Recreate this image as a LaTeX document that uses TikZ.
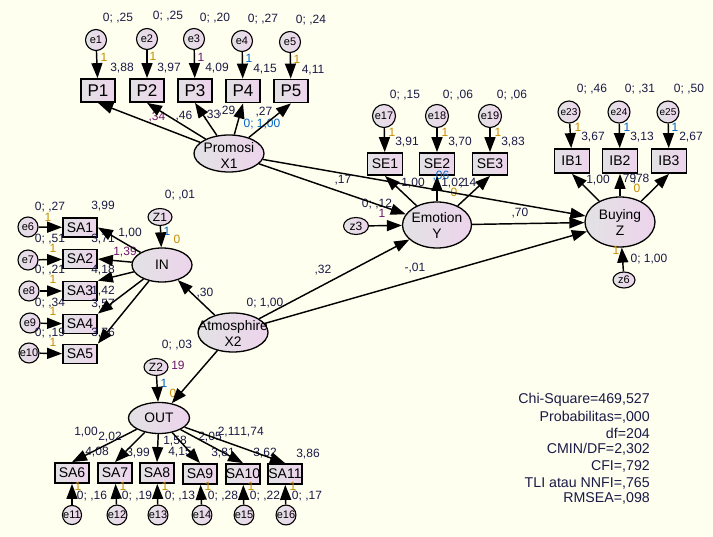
\documentclass[tikz,border=0pt]{standalone}
\usepackage{fontspec}
\setmainfont{Liberation Sans}
\usetikzlibrary{shapes.geometric,arrows.meta}
\definecolor{bgc}{RGB}{255,255,240}
\definecolor{gl}{RGB}{226,226,228}
\definecolor{gr}{RGB}{237,212,236}
\definecolor{gold}{RGB}{200,140,0}
\definecolor{navy}{RGB}{25,25,70}
\definecolor{purp}{RGB}{110,20,110}
\definecolor{blu}{RGB}{0,100,200}
\begin{document}
\begin{tikzpicture}[x=1pt,y=-1pt,
 lat/.style={ellipse,draw,line width=1.3pt,left color=gl,right color=gr,inner sep=0pt},
 obs/.style={rectangle,draw,line width=1.8pt,left color=gl,right color=gr,inner sep=0pt,minimum width=34pt,minimum height=20pt,font=\fontsize{14}{14}\selectfont},
 err/.style={circle,draw,line width=1.1pt,left color=gl,right color=gr,inner sep=0pt,minimum size=21pt,font=\fontsize{11}{11}\selectfont},
 dist/.style={ellipse,draw,line width=1.1pt,left color=gl,right color=gr,inner sep=0pt,minimum width=24pt,minimum height=17pt,font=\fontsize{12}{12}\selectfont},
 arr/.style={-{Triangle[length=15pt,width=11pt]},line width=1.45pt},
 lb/.style={inner sep=0pt,font=\fontsize{12}{12}\selectfont,text=navy},
 one/.style={lb,text=gold},
 ttl/.style={inner sep=0pt,align=center,font=\fontsize{13.8}{16}\selectfont},
 stat/.style={anchor=east,inner sep=0pt,font=\fontsize{14.2}{15}\selectfont,text=navy},
]
\fill[bgc] (0,0) rectangle (713,537);
\useasboundingbox (0,0) rectangle (713,537);

% ---------- Promosi block ----------
\node[err] (e1) at (96,40) {e1};
\node[err] (e2) at (147,39) {e2};
\node[err] (e3) at (194,39) {e3};
\node[err] (e4) at (242,41) {e4};
\node[err] (e5) at (290,42) {e5};
\node[obs,minimum height=23pt,font=\fontsize{17}{17}\selectfont] (P1) at (98,90.5) {P1};
\node[obs,minimum height=23pt,font=\fontsize{17}{17}\selectfont] (P2) at (147,90.5) {P2};
\node[obs,minimum height=23pt,font=\fontsize{17}{17}\selectfont] (P3) at (195,90.5) {P3};
\node[obs,minimum height=23pt,font=\fontsize{17}{17}\selectfont] (P4) at (243,91) {P4};
\node[obs,minimum height=23pt,font=\fontsize{17}{17}\selectfont] (P5) at (291,91) {P5};
\node[lat,minimum width=70pt,minimum height=37pt] (X1) at (229,153.5) {};
\node[ttl] (X1t) at (229,156) {Promosi\\X1};

% ---------- Emotion block ----------
\node[err,minimum size=23pt] (e17) at (384,116) {e17};
\node[err,minimum size=23pt] (e18) at (437,116) {e18};
\node[err,minimum size=23pt] (e19) at (490,116) {e19};
\node[obs,minimum width=35pt,minimum height=22pt] (SE1) at (385,164) {SE1};
\node[obs,minimum width=35pt,minimum height=22pt] (SE2) at (437,164) {SE2};
\node[obs,minimum width=35pt,minimum height=22pt] (SE3) at (490,164) {SE3};
\node[lat,minimum width=69pt,minimum height=46pt] (Y) at (437,225) {};
\node[ttl] (Yt) at (437,225.5) {Emotion\\Y};
\node[dist,minimum width=25pt] (z3) at (356,226) {z3};

% ---------- Buying block ----------
\node[err,minimum size=22pt,font=\fontsize{10}{10}\selectfont] (e23) at (569,112) {e23};
\node[err,minimum size=22pt,font=\fontsize{10}{10}\selectfont] (e24) at (619,112) {e24};
\node[err,minimum size=22pt,font=\fontsize{10}{10}\selectfont] (e25) at (668,112) {e25};
\node[obs,minimum width=35pt,minimum height=24pt] (IB1) at (572,161) {IB1};
\node[obs,minimum width=35pt,minimum height=24pt] (IB2) at (620,161) {IB2};
\node[obs,minimum width=35pt,minimum height=24pt] (IB3) at (669,161) {IB3};
\node[lat,minimum width=70pt,minimum height=50pt] (Z) at (620,222) {};
\node[ttl] (Zt) at (620,222.5) {Buying\\Z};
\node[dist,minimum width=22pt,minimum height=16pt,font=\fontsize{11}{11}\selectfont] (z6) at (624,280) {z6};

% ---------- IN block ----------
\node[dist] (Z1) at (160,217) {Z1};
\node[lat,minimum width=60pt,minimum height=34pt] (IN) at (162,265) {};
\node[ttl] (INt) at (162,265) {IN};
\node[obs,minimum height=19pt] (SA1) at (80,227.5) {SA1};
\node[obs,minimum height=19pt] (SA2) at (80,259) {SA2};
\node[obs,minimum height=19pt] (SA3) at (80,291) {SA3};
\node[obs,minimum height=19pt] (SA4) at (80,324) {SA4};
\node[obs,minimum height=19pt] (SA5) at (80,354) {SA5};
\node[err,minimum size=20pt] (e6) at (28,227) {e6};
\node[err,minimum size=20pt] (e7) at (28,260) {e7};
\node[err,minimum size=20pt] (e8) at (29,291) {e8};
\node[err,minimum size=20pt] (e9) at (30,323) {e9};
\node[err,minimum size=20pt] (e10) at (29,353) {e10};

% ---------- Atmosphire / OUT block ----------
\node[lat,minimum width=70pt,minimum height=39pt] (X2) at (233,332.5) {};
\node[ttl] (X2t) at (233,334) {Atmosphire\\X2};
\node[dist] (Z2) at (156,367) {Z2};
\node[lat,minimum width=61pt,minimum height=31pt] (OUT) at (159,418) {};
\node[ttl] (OUTt) at (159,418) {OUT};
\node[obs] (SA6) at (72,473) {SA6};
\node[obs] (SA7) at (115,473) {SA7};
\node[obs] (SA8) at (157,473) {SA8};
\node[obs] (SA9) at (200,474) {SA9};
\node[obs] (SA10) at (243,474) {SA10};
\node[obs] (SA11) at (285,474) {SA11};
\node[err,minimum size=19pt] (e11) at (72,515) {e11};
\node[err,minimum size=19pt] (e12) at (117,515) {e12};
\node[err,minimum size=19pt] (e13) at (158,515) {e13};
\node[err,minimum size=19pt] (e14) at (202,515) {e14};
\node[err,minimum size=19pt] (e15) at (244,515) {e15};
\node[err,minimum size=19pt] (e16) at (286,515) {e16};

% ---------- labels ----------
\node[lb] (l1) at (118,18) {0; ,25};
\node[lb] (l2) at (168,16) {0; ,25};
\node[lb] (l3) at (215,18) {0; ,20};
\node[lb] (l4) at (263,19) {0; ,27};
\node[lb] (l5) at (311,20) {0; ,24};
\node[one] (o1) at (104,57) {1};
\node[one] (o2) at (153,56) {1};
\node[one,text=purp] (o3) at (201,57) {1};
\node[one,text=blu] (o4) at (249,58) {1};
\node[one] (o5) at (297,59) {1};
\node[lb] (m1) at (122,68) {3,88};
\node[lb] (m2) at (169,68) {3,97};
\node[lb] (m3) at (217,68) {4,09};
\node[lb] (m4) at (265,69.5) {4,15};
\node[lb] (m5) at (313,70) {4,11};
\node[lb,text=purp] (w1) at (157,117) {,34};
\node[lb] (w2) at (184,116) {,46};
\node[lb] (w3) at (212,115) {,33};
\node[lb] (w4) at (227,111) {,29};
\node[lb] (w5) at (264,112) {,27};
\node[lb,text=blu] (vX1) at (262,124) {0; 1,00};

\node[lb] (l17) at (405,95) {0; ,15};
\node[lb] (l18) at (458,95) {0; ,06};
\node[lb] (l19) at (512,95) {0; ,06};
\node[one] (o17) at (392,132) {1};
\node[one] (o18) at (445,132) {1};
\node[one] (o19) at (498,132) {1};
\node[lb] (m17) at (407,142) {3,91};
\node[lb] (m18) at (460,142) {3,70};
\node[lb] (m19) at (513,142) {3,83};
\node[lb] (wse1) at (413,183) {1,00};
\node[lb,text=blu] (wse2) at (441,176) {,06};
\node[lb] (wse2b) at (453,183) {1,02};
\node[lb] (wse3) at (468,183) {,14};
\node[one] (ize) at (454,192) {0};
\node[lb] (vz3) at (377,204) {0; ,12};
\node[lb,text=purp] (oz3) at (382,213) {1};
\node[lb] (g17) at (343,180) {,17};
\node[lb] (g70) at (520,213) {,70};
\node[lb] (g32) at (323,270) {,32};
\node[lb] (g01) at (415,268) {-,01};
\node[lb] (vX2) at (265,303) {0; 1,00};

\node[lb] (l23) at (592,89) {0; ,46};
\node[lb] (l24) at (640,89) {0; ,31};
\node[lb] (l25) at (689,89) {0; ,50};
\node[one] (o23) at (578,127) {1};
\node[one,text=blu] (o24) at (627,127) {1};
\node[one,text=blu] (o25) at (675,127) {1};
\node[lb] (m23) at (593,137) {3,67};
\node[lb] (m24) at (642,137) {3,13};
\node[lb] (m25) at (691,137) {2,67};
\node[lb] (wib1) at (598,180) {1,00};
\node[lb] (wib3) at (641,179) {,78};
\node[lb] (wib2) at (628,179) {,79};
\node[one] (izz) at (637,188) {0};
\node[lb,text=gold] (oz6) at (616,250) {1};
\node[lb] (vz6) at (649,259) {0; 1,00};

\node[lb] (vZ1) at (180,195) {0; ,01};
\node[lb,text=blu] (oZ1) at (167,231) {1};
\node[one] (iIN) at (177,239) {0};
\node[lb] (g30) at (205,293) {,30};
\node[lb] (v6) at (50,207) {0; ,27};
\node[lb] (i6) at (103,206) {3,99};
\node[one] (o6) at (48,217) {1};
\node[lb] (v7) at (50,239) {0; ,51};
\node[lb] (i7) at (103,239) {3,71};
\node[one] (o7) at (53,248) {1};
\node[lb] (wsa1) at (130,233) {1,00};
\node[lb,text=purp] (wsa2) at (125,252) {1,39};
\node[lb] (v8) at (50,270) {0; ,21};
\node[lb] (i8) at (103,270) {4,18};
\node[one] (o8) at (53,279) {1};
\node[lb] (wsa3) at (103,291) {1,42};
\node[lb] (v9) at (50,303) {0; ,34};
\node[lb] (i9) at (103,304) {3,57};
\node[one] (o9) at (53,311) {1};
\node[lb] (v10) at (50,333) {0; ,19};
\node[lb] (i10) at (103,333) {3,76};
\node[one] (o10) at (53,342) {1};

\node[lb] (vZ2) at (177,345) {0; ,03};
\node[lb,text=purp] (g19) at (178,365) {19};
\node[lb,text=blu] (oZ2) at (164,383) {1};
\node[one] (iOUT) at (173,393) {0};
\node[lb] (w6) at (86,432) {1,00};
\node[lb] (w7) at (110,437) {2,02};
\node[lb] (i11) at (97,452) {4,08};
\node[lb] (i12) at (138,453) {3,99};
\node[lb] (w8) at (175,441) {1,58};
\node[lb] (i13) at (180,452) {4,15};
\node[lb] (w9) at (210,437) {2,05};
\node[lb] (w10) at (229,432) {2,11};
\node[lb] (w11) at (252,432) {1,74};
\node[lb] (i14) at (223,453) {3,81};
\node[lb] (i15) at (265,453) {3,62};
\node[lb] (i16) at (308,454) {3,86};
\node[one] (o11) at (78,486) {1};
\node[one] (o12) at (123,486) {1};
\node[one] (o13) at (165,486) {1};
\node[one] (o14) at (208,486) {1};
\node[one] (o15) at (251,486) {1};
\node[one] (o16) at (293,486) {1};
\node[lb] (v11) at (92,496) {0; ,16};
\node[lb] (v12) at (137,496) {0; ,19};
\node[lb] (v13) at (180,496) {0; ,13};
\node[lb] (v14) at (223,496) {0; ,28};
\node[lb] (v15) at (265,496) {0; ,22};
\node[lb] (v16) at (307,496) {0; ,17};

% ---------- fit statistics ----------
\node[stat] (s1) at (650,400) {Chi-Square=469,527};
\node[stat] (s2) at (650,417) {Probabilitas=,000};
\node[stat] (s3) at (650,433) {df=204};
\node[stat] (s4) at (650,449) {CMIN/DF=2,302};
\node[stat] (s5) at (650,466) {CFI=,792};
\node[stat] (s6) at (650,483) {TLI atau NNFI=,765};
\node[stat] (s7) at (650,498) {RMSEA=,098};

% ---------- connectors ----------
\foreach \e/\p in {e1/P1,e2/P2,e3/P3,e4/P4,e5/P5,e17/SE1,e18/SE2,e19/SE3,e23/IB1,e24/IB2,e25/IB3,
  e6/SA1,e7/SA2,e8/SA3,e9/SA4,e10/SA5,e11/SA6,e12/SA7,e13/SA8,e14/SA9,e15/SA10,e16/SA11}
  \draw[arr] (\e) -- (\p);
\foreach \p in {P1,P2,P3,P4,P5}
  \draw[arr] (X1) -- (\p.south);
\foreach \p in {SE1,SE2,SE3}
  \draw[arr] (Y) -- (\p.south);
\foreach \p in {IB1,IB2,IB3}
  \draw[arr] (Z) -- (\p.south);
\draw[arr] (IN) -- (SA1.east);
\draw[arr] (IN) -- (SA2.east);
\draw[arr] (IN) -- (SA3.north east);
\draw[arr] (IN) -- (SA4.north east);
\draw[arr] (IN) -- (SA5.north east);
\foreach \p in {SA6,SA7,SA8,SA9,SA10,SA11}
  \draw[arr] (OUT) -- (\p.north);
\draw[arr] (X1) -- (Y);
\draw[arr] (X1) -- (Z);
\draw[arr] (Y) -- (Z);
\draw[arr] (z3) -- (Y);
\draw[arr] (z6) -- (Z);
\draw[arr] (X2) -- (Y);
\draw[arr] (X2) -- (Z);
\draw[arr] (X2) -- (IN);
\draw[arr] (X2) -- (OUT);
\draw[arr] (Z1) -- (IN);
\draw[arr] (Z2) -- (OUT);
\end{tikzpicture}
\end{document}
